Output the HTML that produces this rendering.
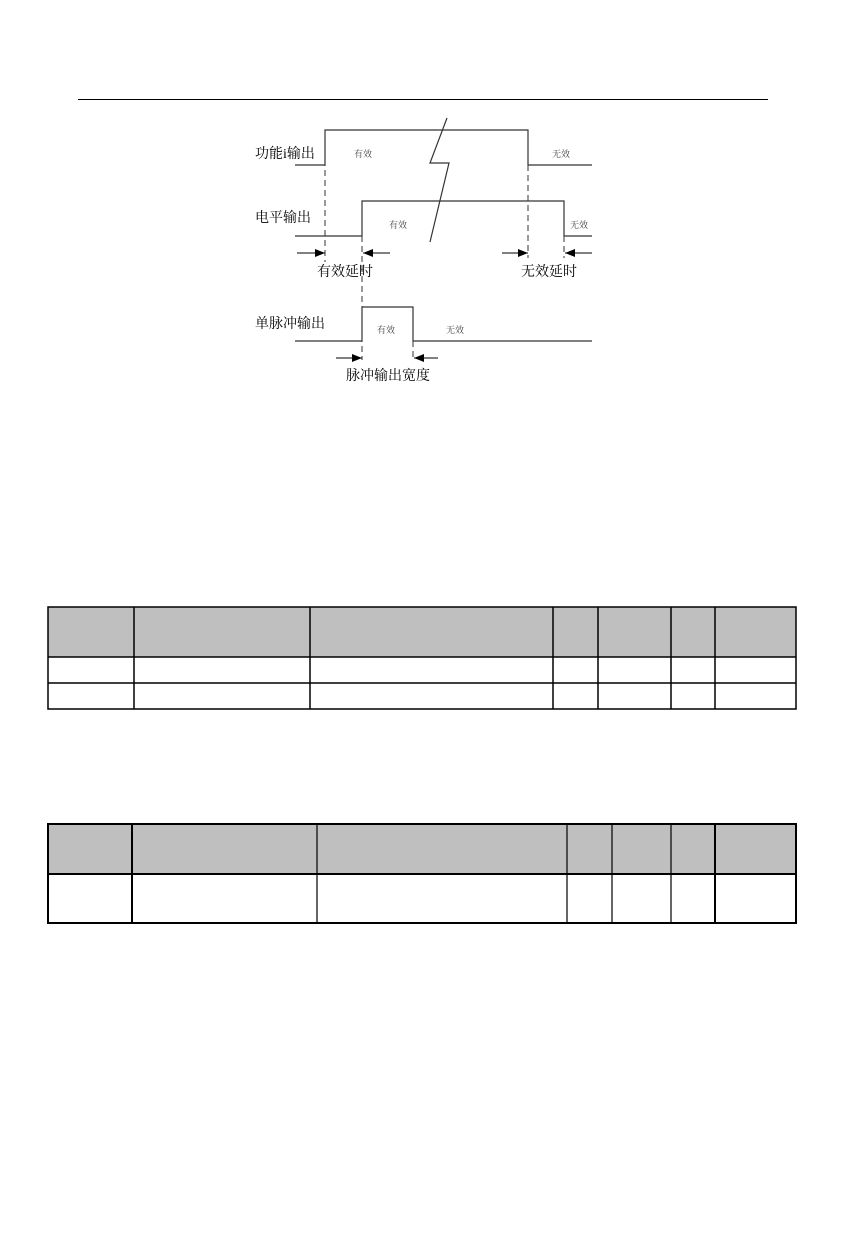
<!DOCTYPE html>
<html><head><meta charset="utf-8"><style>
body{margin:0;background:#fff;width:845px;height:1240px;position:relative;overflow:hidden;font-family:"Liberation Serif","Noto Serif CJK SC",serif}
svg{position:absolute;left:0;top:0}
</style></head><body>
<svg width="845" height="1240" viewBox="0 0 845 1240" xmlns="http://www.w3.org/2000/svg">
<defs><marker id="a" markerWidth="10" markerHeight="8" refX="10" refY="4" orient="auto" markerUnits="userSpaceOnUse"><path d="M0,0L10,4L0,8z" fill="#000"/></marker></defs>
<line x1="78" y1="99.5" x2="768" y2="99.5" stroke="#000" stroke-width="1"/>
<g fill="none" stroke="#333" stroke-width="1.2">
<polyline points="295,165 325,165 325,130 528,130 528,165 592,165"/>
<polyline points="295,236 362,236 362,201 564,201 564,236 592,236"/>
<polyline points="295,341 362,341 362,307 413,307 413,341 592,341"/>
<polyline points="447,118 430,163 449,163 430,242"/>
</g>
<g stroke="#333" stroke-width="1" stroke-dasharray="6,4">
<line x1="325" y1="130" x2="325" y2="262"/>
<line x1="362" y1="236" x2="362" y2="360"/>
<line x1="528" y1="165" x2="528" y2="258"/>
<line x1="564" y1="236" x2="564" y2="258"/>
<line x1="413" y1="341" x2="413" y2="360"/>
</g>
<g stroke="#000" stroke-width="1">
<line x1="297" y1="253" x2="325" y2="253" marker-end="url(#a)"/>
<line x1="390" y1="253" x2="363" y2="253" marker-end="url(#a)"/>
<line x1="502" y1="253" x2="528" y2="253" marker-end="url(#a)"/>
<line x1="592" y1="253" x2="565" y2="253" marker-end="url(#a)"/>
<line x1="336" y1="358" x2="362" y2="358" marker-end="url(#a)"/>
<line x1="438" y1="358" x2="414" y2="358" marker-end="url(#a)"/>
</g>
<g font-family="Liberation Serif,Noto Serif CJK SC,serif" fill="#000" font-size="14">
<text x="255" y="158">功能i输出</text>
<text x="255" y="222">电平输出</text>
<text x="255" y="328">单脉冲输出</text>
<text x="317" y="276">有效延时</text>
<text x="521" y="276">无效延时</text>
<text x="346" y="380">脉冲输出宽度</text>
</g>
<g font-family="Liberation Serif,Noto Serif CJK SC,serif" fill="#444" font-size="9">
<text x="354" y="157">有效</text>
<text x="552" y="157">无效</text>
<text x="389" y="228">有效</text>
<text x="570" y="228">无效</text>
<text x="377" y="333">有效</text>
<text x="446" y="333">无效</text>
</g>
<!-- table 1 -->
<rect x="48" y="607" width="748" height="50" fill="#bfbfbf"/>
<g stroke="#000" stroke-width="1.5" fill="none">
<rect x="48" y="607" width="748" height="102"/>
<line x1="48" y1="657" x2="796" y2="657"/>
<line x1="48" y1="683" x2="796" y2="683"/>
<line x1="134" y1="607" x2="134" y2="709"/>
<line x1="310" y1="607" x2="310" y2="709"/>
<line x1="553" y1="607" x2="553" y2="709"/>
<line x1="598" y1="607" x2="598" y2="709"/>
<line x1="671" y1="607" x2="671" y2="709"/>
<line x1="715" y1="607" x2="715" y2="709"/>
</g>
<!-- table 2 -->
<rect x="48" y="824" width="748" height="50" fill="#bfbfbf"/>
<g stroke="#000" fill="none">
<rect x="48" y="824" width="748" height="99" stroke-width="2"/>
<line x1="48" y1="874" x2="796" y2="874" stroke-width="2"/>
<line x1="132" y1="824" x2="132" y2="923" stroke-width="2"/>
<line x1="317" y1="824" x2="317" y2="923" stroke-width="1.2"/>
<line x1="567" y1="824" x2="567" y2="923" stroke-width="1.2"/>
<line x1="612" y1="824" x2="612" y2="923" stroke-width="1.2"/>
<line x1="671" y1="824" x2="671" y2="923" stroke-width="1.2"/>
<line x1="715" y1="824" x2="715" y2="923" stroke-width="2"/>
</g>
</svg>
</body></html>
